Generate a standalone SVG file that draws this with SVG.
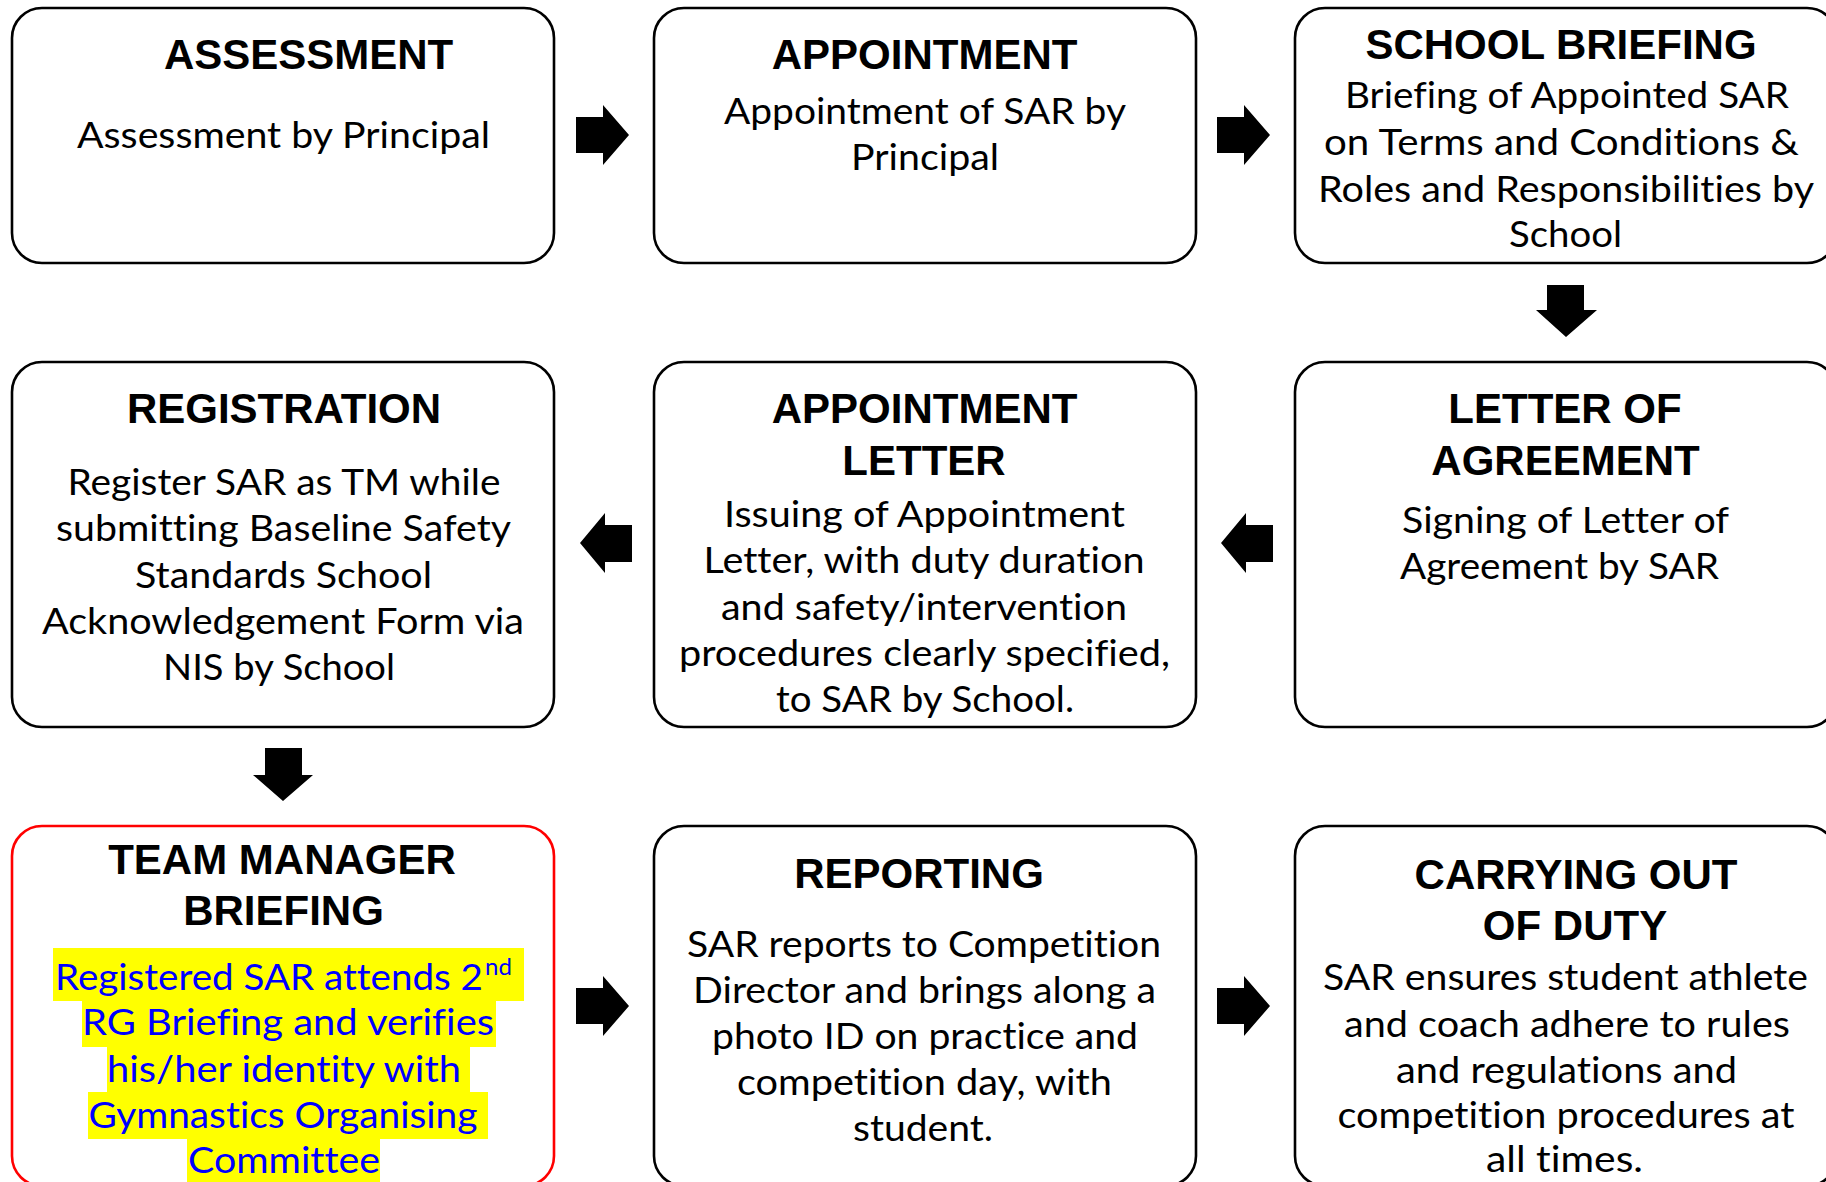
<svg xmlns="http://www.w3.org/2000/svg" width="1826" height="1182" viewBox="0 0 1826 1182">
<style>
.box{fill:#ffffff;stroke:#000000;stroke-width:2.6}
.red{stroke:#ff0000}
.t{font-family:"Liberation Sans",Arial,sans-serif;font-weight:bold;font-size:42px;fill:#000;text-anchor:middle}
.b{font-family:Lato,"Open Sans",sans-serif;font-size:37.5px;fill:#000;text-anchor:middle;font-variant-ligatures:none}
.blue{fill:#0000ff}
.hl{fill:#ffff00}
.arr{fill:#000000}
</style>
<rect width="1826" height="1182" fill="#ffffff"/>
<g id="connectors">
<polygon class="arr" points="576,117 603,117 603,105 629,135 603,165 603,153 576,153"/>
<polygon class="arr" points="1217,117 1244,117 1244,105 1270,135 1244,165 1244,153 1217,153"/>
<polygon class="arr" points="1547,285 1584,285 1584,310 1597,310 1566,337 1536,310 1547,310"/>
<polygon class="arr" points="1273,525 1246,525 1246,513 1221,543 1246,573 1246,562 1273,562"/>
<polygon class="arr" points="632,525 605,525 605,513 580,543 605,573 605,562 632,562"/>
<polygon class="arr" points="265,748 302,748 302,775 313,775 283,801 253,775 265,775"/>
<polygon class="arr" points="576,988 603,988 603,976 629,1006 603,1036 603,1024 576,1024"/>
<polygon class="arr" points="1217,988 1244,988 1244,976 1270,1006 1244,1036 1244,1024 1217,1024"/>
</g>
<g id="assessment">
<rect class="box" x="12" y="8" width="542" height="255" rx="30"/>
<text class="t" x="308.6" y="69">ASSESSMENT</text>
<text class="b" x="283.5" y="148" textLength="413" lengthAdjust="spacingAndGlyphs">Assessment by Principal</text>
</g>
<g id="appointment">
<rect class="box" x="654" y="8" width="542" height="255" rx="30"/>
<text class="t" x="924.6" y="69">APPOINTMENT</text>
<text class="b" x="925" y="124" textLength="402" lengthAdjust="spacingAndGlyphs">Appointment of SAR by</text>
<text class="b" x="925" y="170" textLength="148" lengthAdjust="spacingAndGlyphs">Principal</text>
</g>
<g id="school-briefing">
<rect class="box" x="1295" y="8" width="542" height="255" rx="30"/>
<text class="t" x="1561" y="59">SCHOOL BRIEFING</text>
<text class="b" x="1567" y="108" textLength="444" lengthAdjust="spacingAndGlyphs">Briefing of Appointed SAR</text>
<text class="b" x="1561.5" y="155" textLength="475" lengthAdjust="spacingAndGlyphs">on Terms and Conditions &amp;</text>
<text class="b" x="1566" y="202" textLength="496" lengthAdjust="spacingAndGlyphs">Roles and Responsibilities by</text>
<text class="b" x="1565.5" y="247" textLength="113" lengthAdjust="spacingAndGlyphs">School</text>
</g>
<g id="registration">
<rect class="box" x="12" y="362" width="542" height="365" rx="30"/>
<text class="t" x="284" y="423">REGISTRATION</text>
<text class="b" x="284" y="495" textLength="433" lengthAdjust="spacingAndGlyphs">Register SAR as TM while</text>
<text class="b" x="283.5" y="541" textLength="455" lengthAdjust="spacingAndGlyphs">submitting Baseline Safety</text>
<text class="b" x="283.5" y="588" textLength="297" lengthAdjust="spacingAndGlyphs">Standards School</text>
<text class="b" x="283" y="634" textLength="482" lengthAdjust="spacingAndGlyphs">Acknowledgement Form via</text>
<text class="b" x="279" y="680" textLength="232" lengthAdjust="spacingAndGlyphs">NIS by School</text>
</g>
<g id="appointment-letter">
<rect class="box" x="654" y="362" width="542" height="365" rx="30"/>
<text class="t" x="924.6" y="423">APPOINTMENT</text>
<text class="t" x="924" y="475">LETTER</text>
<text class="b" x="924.5" y="527" textLength="401" lengthAdjust="spacingAndGlyphs">Issuing of Appointment</text>
<text class="b" x="924" y="573" textLength="441" lengthAdjust="spacingAndGlyphs">Letter, with duty duration</text>
<text class="b" x="924" y="620" textLength="406" lengthAdjust="spacingAndGlyphs">and safety/intervention</text>
<text class="b" x="924.5" y="666" textLength="491" lengthAdjust="spacingAndGlyphs">procedures clearly specified,</text>
<text class="b" x="925" y="712" textLength="298" lengthAdjust="spacingAndGlyphs">to SAR by School.</text>
</g>
<g id="letter-of-agreement">
<rect class="box" x="1295" y="362" width="542" height="365" rx="30"/>
<text class="t" x="1565" y="423">LETTER OF</text>
<text class="t" x="1565.5" y="475">AGREEMENT</text>
<text class="b" x="1565.5" y="533" textLength="327" lengthAdjust="spacingAndGlyphs">Signing of Letter of</text>
<text class="b" x="1559.5" y="579" textLength="319" lengthAdjust="spacingAndGlyphs">Agreement by SAR</text>
</g>
<g id="team-manager-briefing">
<rect class="box red" x="12" y="826" width="542" height="360" rx="30"/>
<text class="t" x="282" y="874">TEAM MANAGER</text>
<text class="t" x="283.5" y="925">BRIEFING</text>
<rect class="hl" x="53" y="948" width="471" height="53"/>
<rect class="hl" x="82" y="1001" width="414" height="46"/>
<rect class="hl" x="107" y="1047" width="363" height="45"/>
<rect class="hl" x="88" y="1092" width="400" height="47"/>
<rect class="hl" x="187" y="1139" width="193" height="46"/>
<text class="b blue" x="55" y="990" style="text-anchor:start"><tspan textLength="428" lengthAdjust="spacingAndGlyphs">Registered SAR attends 2</tspan><tspan dx="2" dy="-15" font-size="24">nd</tspan></text>
<text class="b blue" x="288" y="1035" textLength="412" lengthAdjust="spacingAndGlyphs">RG Briefing and verifies</text>
<text class="b blue" x="284" y="1082" textLength="354" lengthAdjust="spacingAndGlyphs">his/her identity with</text>
<text class="b blue" x="283" y="1128" textLength="389" lengthAdjust="spacingAndGlyphs">Gymnastics Organising</text>
<text class="b blue" x="284" y="1173" textLength="192" lengthAdjust="spacingAndGlyphs">Committee</text>
</g>
<g id="reporting">
<rect class="box" x="654" y="826" width="542" height="360" rx="30"/>
<text class="t" x="919" y="888">REPORTING</text>
<text class="b" x="924" y="957" textLength="474" lengthAdjust="spacingAndGlyphs">SAR reports to Competition</text>
<text class="b" x="924.5" y="1003" textLength="463" lengthAdjust="spacingAndGlyphs">Director and brings along a</text>
<text class="b" x="925" y="1049" textLength="426" lengthAdjust="spacingAndGlyphs">photo ID on practice and</text>
<text class="b" x="924.5" y="1095" textLength="375" lengthAdjust="spacingAndGlyphs">competition day, with</text>
<text class="b" x="923" y="1141" textLength="140" lengthAdjust="spacingAndGlyphs">student.</text>
</g>
<g id="carrying-out-of-duty">
<rect class="box" x="1295" y="826" width="542" height="360" rx="30"/>
<text class="t" x="1576" y="889">CARRYING OUT</text>
<text class="t" x="1575" y="940">OF DUTY</text>
<text class="b" x="1565.5" y="990" textLength="485" lengthAdjust="spacingAndGlyphs">SAR ensures student athlete</text>
<text class="b" x="1567" y="1037" textLength="446" lengthAdjust="spacingAndGlyphs">and coach adhere to rules</text>
<text class="b" x="1566.5" y="1083" textLength="341" lengthAdjust="spacingAndGlyphs">and regulations and</text>
<text class="b" x="1566" y="1128" textLength="457" lengthAdjust="spacingAndGlyphs">competition procedures at</text>
<text class="b" x="1564.5" y="1172" textLength="157" lengthAdjust="spacingAndGlyphs">all times.</text>
</g>
</svg>
